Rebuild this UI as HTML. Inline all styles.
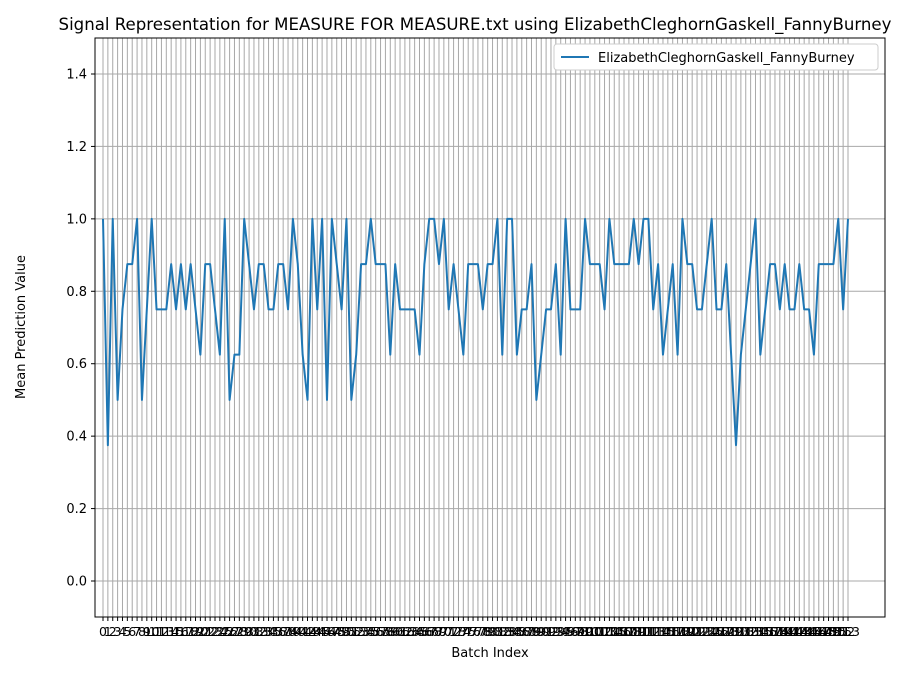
<!DOCTYPE html>
<html><head><meta charset="utf-8"><style>
body{margin:0;background:#fff;}
svg{display:block;font-family:"DejaVu Sans","Liberation Sans",sans-serif;}
</style></head><body>
<svg id="chart" width="900" height="675">
<rect width="900" height="675" fill="#fff"/>
<text x="475" y="30" font-size="16.6" text-anchor="middle">Signal Representation for MEASURE FOR MEASURE.txt using ElizabethCleghornGaskell_FannyBurney</text>
<g id="grid"></g>
<g id="xticks"></g>
<g id="yticks"></g>
<path id="series" fill="none" stroke="#1f77b4" stroke-width="2" stroke-linejoin="round"/>
<rect x="95" y="38" width="790" height="579" fill="none" stroke="#000" stroke-width="1"/>
<text x="490" y="657" font-size="13" text-anchor="middle">Batch Index</text>
<text x="25" y="327" font-size="13" text-anchor="middle" transform="rotate(-90 25 327)">Mean Prediction Value</text>
<g>
<rect x="554" y="44" width="324" height="26" fill="#fff" stroke="#ccc" rx="3"/>
<line x1="561" y1="57" x2="589" y2="57" stroke="#1f77b4" stroke-width="2"/>
<text x="598" y="62" font-size="13">ElizabethCleghornGaskell_FannyBurney</text>
</g>
</svg>
<script>
const values=[1.0,0.375,1.0,0.5,0.75,0.875,0.875,1.0,0.5,0.75,
1.0,0.75,0.75,0.75,0.875,0.75,0.875,0.75,0.875,0.75,
0.625,0.875,0.875,0.75,0.625,1.0,0.5,0.625,0.625,1.0,
0.875,0.75,0.875,0.875,0.75,0.75,0.875,0.875,0.75,1.0,
0.875,0.625,0.5,1.0,0.75,1.0,0.5,1.0,0.875,0.75,
1.0,0.5,0.625,0.875,0.875,1.0,0.875,0.875,0.875,0.625,
0.875,0.75,0.75,0.75,0.75,0.625,0.875,1.0,1.0,0.875,
1.0,0.75,0.875,0.75,0.625,0.875,0.875,0.875,0.75,0.875,
0.875,1.0,0.625,1.0,1.0,0.625,0.75,0.75,0.875,0.5,
0.625,0.75,0.75,0.875,0.625,1.0,0.75,0.75,0.75,1.0,
0.875,0.875,0.875,0.75,1.0,0.875,0.875,0.875,0.875,1.0,
0.875,1.0,1.0,0.75,0.875,0.625,0.75,0.875,0.625,1.0,
0.875,0.875,0.75,0.75,0.875,1.0,0.75,0.75,0.875,0.625,
0.375,0.625,0.75,0.875,1.0,0.625,0.75,0.875,0.875,0.75,
0.875,0.75,0.75,0.875,0.75,0.75,0.625,0.875,0.875,0.875,
0.875,1.0,0.75,1.0];
const yTicks=[0.0,0.2,0.4,0.6,0.8,1.0,1.2,1.4];
const NS="http://www.w3.org/2000/svg";
const x0=103,x1=848,n=values.length;
function xs(i){return x0+(x1-x0)*i/(n-1);}
function ys(v){return 581-(581-74)*v/1.4;}
const grid=document.getElementById('grid'),xt=document.getElementById('xticks'),yt=document.getElementById('yticks');
for(let i=0;i<n;i++){
 const x=xs(i);
 const g=document.createElementNS(NS,'line');
 g.setAttribute('x1',x);g.setAttribute('x2',x);g.setAttribute('y1',38);g.setAttribute('y2',617);
 g.setAttribute('stroke','#a8a8a8');g.setAttribute('stroke-width','1');
 
 
 grid.appendChild(g);
 const t=document.createElementNS(NS,'line');
 t.setAttribute('x1',x);t.setAttribute('x2',x);t.setAttribute('y1',617);t.setAttribute('y2',621);t.setAttribute('stroke','#000');
 
 
 xt.appendChild(t);
 const l=document.createElementNS(NS,'text');
 l.setAttribute('x',x);l.setAttribute('y',636);l.setAttribute('font-size','12.5');l.setAttribute('text-anchor','middle');
 l.textContent=String(i);
 
 
 xt.appendChild(l);
}
yTicks.forEach(v=>{
 const y=ys(v);
 const g=document.createElementNS(NS,'line');
 g.setAttribute('x1',95);g.setAttribute('x2',885);g.setAttribute('y1',y);g.setAttribute('y2',y);
 g.setAttribute('stroke','#a8a8a8');g.setAttribute('stroke-width','1');
 
 
 grid.appendChild(g);
 const t=document.createElementNS(NS,'line');
 t.setAttribute('x1',91);t.setAttribute('x2',95);t.setAttribute('y1',y);t.setAttribute('y2',y);t.setAttribute('stroke','#000');
 
 
 yt.appendChild(t);
 const l=document.createElementNS(NS,'text');
 l.setAttribute('x',87);l.setAttribute('y',y+4.5);l.setAttribute('font-size','13');l.setAttribute('text-anchor','end');
 l.textContent=v.toFixed(1);
 
 
 yt.appendChild(l);
});
document.getElementById('series').setAttribute('d',values.map((v,i)=>(i?'L':'M')+xs(i).toFixed(2)+','+ys(v).toFixed(2)).join(' '));
</script>
</body></html>
